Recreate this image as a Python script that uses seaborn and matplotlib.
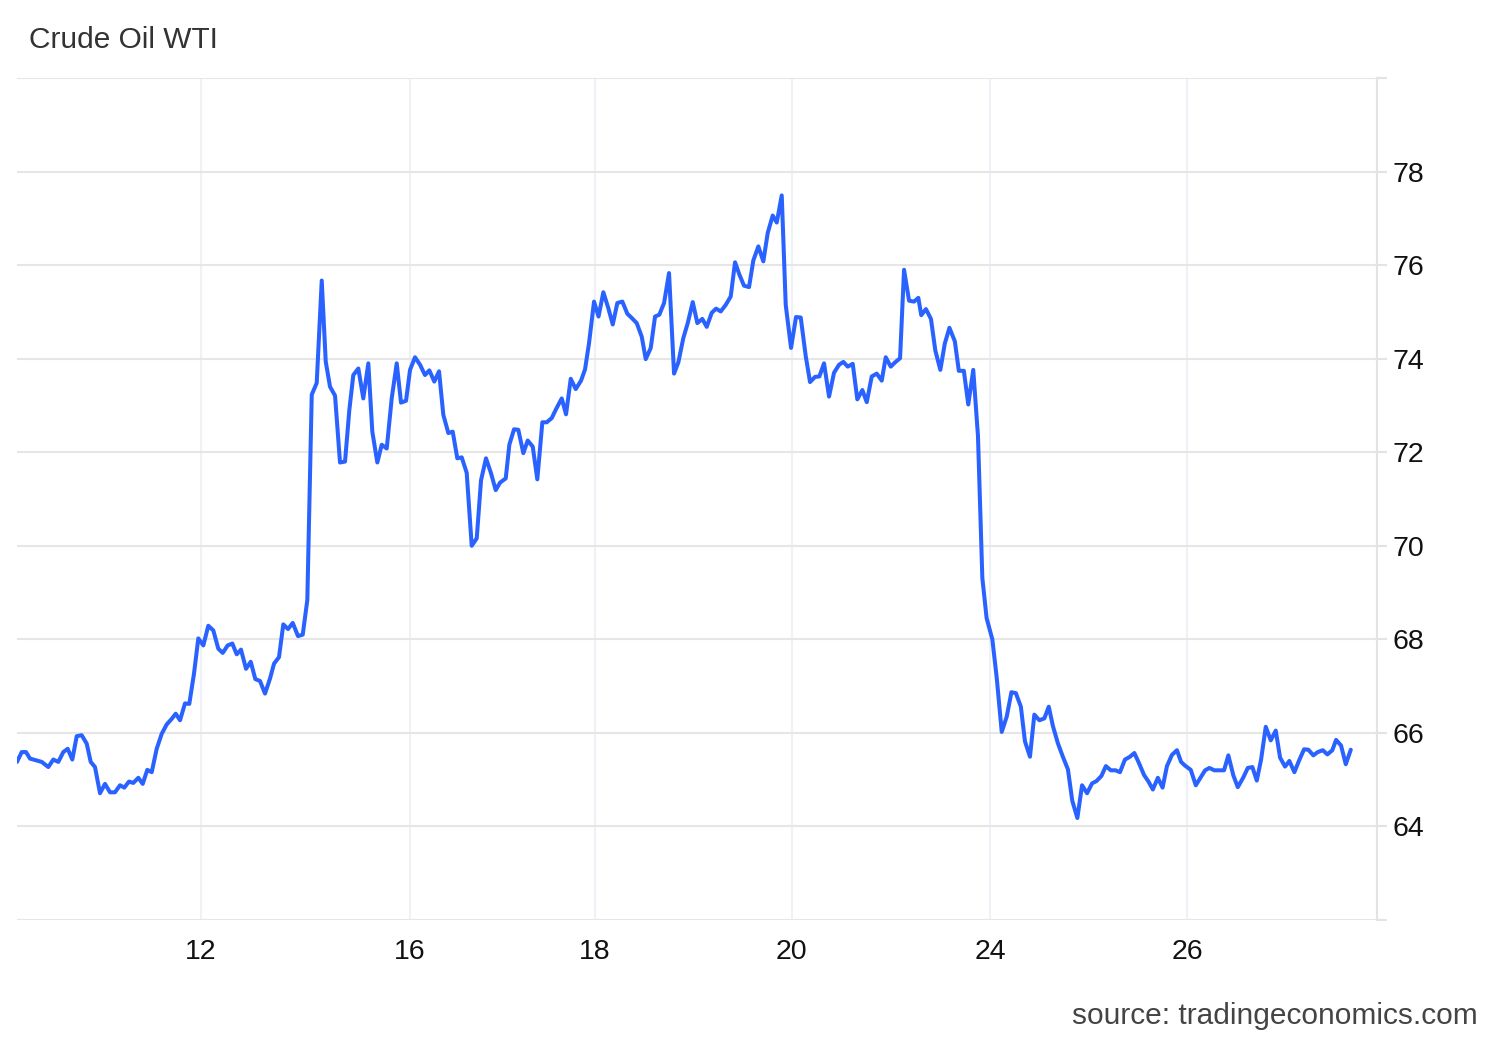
from matplotlib import pyplot as plt
import pandas as pd
import seaborn as sns

# hourly WTI quotes, x = hours since start of the window, y = USD/bbl
hours = [0.00, 1.10, 2.10, 3.03, 4.59, 5.76, 7.30, 8.46, 9.63, 10.79, 11.82, 12.89, 13.92, 15.08,
         16.25, 17.18, 18.18, 19.35, 20.51, 21.68, 22.84, 24.01, 25.01, 26.11, 27.11, 28.28, 29.30,
         30.37, 31.40, 32.56, 33.73, 34.89, 36.06, 36.99, 38.00, 39.16, 40.16, 41.26, 42.26, 43.43,
         44.59, 45.76, 46.92, 47.95, 49.11, 50.19, 51.21, 52.21, 53.38, 54.48, 55.55, 56.64, 57.81,
         58.97, 59.91, 61.07, 62.07, 63.17, 64.27, 65.50, 66.60, 67.67, 68.70, 69.86, 71.03, 71.96,
         72.96, 74.13, 75.29, 76.46, 77.46, 78.39, 79.56, 80.72, 81.89, 82.82, 83.99, 85.01, 86.18,
         87.34, 88.51, 89.51, 90.68, 91.61, 92.77, 93.94, 95.10, 96.11, 97.27, 98.37, 99.37, 100.54,
         101.56, 102.63, 103.66, 104.82, 105.99, 107.16, 108.16, 109.32, 110.49, 111.58, 112.59,
         113.92, 114.76, 115.85, 116.85, 118.02, 119.04, 120.21, 121.28, 122.45, 123.47, 124.64,
         125.64, 126.97, 127.97, 129.07, 130.23, 131.47, 132.40, 133.33, 134.50, 135.55, 136.67,
         137.83, 138.86, 139.93, 141.10, 142.26, 143.29, 144.45, 145.62, 146.55, 147.72, 148.72,
         149.72, 150.82, 151.98, 153.15, 154.15, 155.31, 156.34, 157.51, 158.58, 159.74, 160.77,
         161.93, 162.94, 164.03, 165.20, 166.36, 167.37, 168.37, 169.46, 170.63, 171.63, 172.80,
         173.96, 174.99, 176.15, 177.09, 178.25, 179.18, 180.42, 181.58, 182.68, 183.85, 184.85,
         186.01, 187.02, 188.11, 189.28, 190.44, 191.61, 192.61, 193.64, 194.80, 195.87, 197.04,
         198.07, 199.23, 200.40, 201.56, 202.49, 203.66, 204.66, 205.83, 206.76, 207.93, 209.09,
         210.09, 210.77, 211.86, 213.03, 214.06, 215.22, 216.25, 217.34, 218.60, 219.53, 220.70,
         221.73, 222.89, 223.99, 225.01, 226.01, 227.34, 228.37, 229.53, 230.70, 231.79, 232.82,
         233.99, 234.94, 236.11, 237.13, 238.30, 239.46, 240.49, 241.45, 242.61, 243.78, 244.96,
         245.97, 247.16, 248.25, 249.42, 250.58, 251.61, 252.77, 253.80, 254.97, 256.06, 257.09,
         258.25, 259.42, 260.44, 261.54, 262.70, 263.73, 264.75, 265.92, 267.02, 268.04, 269.21,
         270.37, 271.33, 272.26, 273.59, 274.76, 275.92, 276.93, 277.93, 279.09, 280.26, 281.35,
         282.35, 283.52, 284.55, 285.85, 286.88, 287.95, 288.98, 289.98, 291.07, 292.24, 293.40,
         294.41, 295.57, 296.57, 297.74, 298.84, 300.00, 301.00, 302.17, 303.19, 304.36, 305.43,
         306.59, 307.46, 308.62, 309.72, 310.89]

price = [65.38, 65.59, 65.59, 65.45, 65.41, 65.38, 65.27, 65.43, 65.38, 65.59, 65.66, 65.43, 65.93,
         65.95, 65.77, 65.38, 65.27, 64.71, 64.91, 64.73, 64.73, 64.88, 64.83, 64.96, 64.93, 65.04,
         64.91, 65.21, 65.16, 65.66, 65.98, 66.18, 66.30, 66.41, 66.27, 66.63, 66.62, 67.27, 68.02,
         67.87, 68.29, 68.19, 67.80, 67.71, 67.87, 67.91, 67.68, 67.78, 67.37, 67.52, 67.15, 67.11,
         66.84, 67.16, 67.48, 67.62, 68.32, 68.22, 68.35, 68.07, 68.10, 68.84, 73.23, 73.48, 75.67,
         73.94, 73.40, 73.21, 71.78, 71.80, 72.90, 73.65, 73.79, 73.15, 73.90, 72.44, 71.78, 72.16,
         72.08, 73.15, 73.90, 73.06, 73.10, 73.76, 74.03, 73.87, 73.65, 73.75, 73.51, 73.73, 72.80,
         72.41, 72.44, 71.87, 71.89, 71.56, 70.00, 70.16, 71.40, 71.87, 71.55, 71.19, 71.35, 71.44,
         72.16, 72.49, 72.48, 71.98, 72.25, 72.12, 71.42, 72.64, 72.64, 72.73, 72.92, 73.15, 72.81,
         73.57, 73.35, 73.53, 73.77, 74.33, 75.22, 74.90, 75.42, 75.08, 74.73, 75.19, 75.22, 74.96,
         74.87, 74.76, 74.47, 73.99, 74.23, 74.90, 74.94, 75.19, 75.83, 73.68, 73.92, 74.44, 74.76,
         75.21, 74.76, 74.85, 74.68, 74.98, 75.07, 75.01, 75.15, 75.33, 76.06, 75.80, 75.56, 75.53,
         76.10, 76.40, 76.08, 76.69, 77.06, 76.91, 77.49, 75.15, 74.23, 74.89, 74.88, 74.05, 73.50,
         73.61, 73.62, 73.90, 73.19, 73.70, 73.87, 73.93, 73.83, 73.89, 73.13, 73.33, 73.07, 73.62,
         73.68, 73.53, 74.03, 73.83, 73.92, 74.01, 75.90, 75.24, 75.22, 75.30, 74.93, 75.06, 74.85,
         74.17, 73.76, 74.32, 74.66, 74.37, 73.74, 73.74, 73.02, 73.76, 72.35, 69.31, 68.45, 68.00,
         67.17, 66.02, 66.35, 66.87, 66.85, 66.56, 65.82, 65.49, 66.39, 66.27, 66.31, 66.56, 66.15,
         65.78, 65.49, 65.22, 64.55, 64.18, 64.88, 64.71, 64.92, 64.97, 65.08, 65.29, 65.20, 65.20,
         65.16, 65.43, 65.49, 65.57, 65.35, 65.10, 64.96, 64.79, 65.04, 64.83, 65.29, 65.53, 65.63,
         65.38, 65.30, 65.21, 64.88, 65.05, 65.20, 65.25, 65.20, 65.20, 65.20, 65.52, 65.09, 64.84,
         65.05, 65.25, 65.27, 64.98, 65.43, 66.13, 65.84, 66.05, 65.47, 65.28, 65.40, 65.16, 65.41,
         65.65, 65.64, 65.52, 65.59, 65.63, 65.54, 65.63, 65.85, 65.73, 65.33, 65.64]

day_ticks = [42.9, 91.6, 134.7, 180.6, 226.8, 272.7]
day_labels = ['12', '16', '18', '20', '24', '26']
price_ticks = list(range(62, 81, 2))
price_labels = ['' if p in (62, 80) else str(p) for p in price_ticks]

df = pd.DataFrame({'hour': hours, 'price': price})

sns.set_style('white')
plt.rcParams['font.family'] = ['Liberation Sans', 'DejaVu Sans']

fig = plt.figure(figsize=(15, 10.4), dpi=100)
ax = fig.add_axes([17 / 1500, 1 - 920 / 1040, 1360 / 1500, 842 / 1040])

sns.lineplot(data=df, x='hour', y='price', ax=ax, color='#2962ff', linewidth=2.9)

ax.set_xlim(0, 317)
ax.set_ylim(62, 80)
ax.set_xlabel('')
ax.set_ylabel('')

# vertical grid at the day ticks
for t in day_ticks:
    ax.axvline(t, color='#eef1f5', linewidth=1.5, zorder=0)
ax.set_xticks(day_ticks)
ax.set_xticklabels(day_labels, fontsize=20.5, color='#111111')
ax.tick_params(axis='x', length=0, pad=14)

ax.yaxis.tick_right()
ax.set_yticks(price_ticks)
ax.set_yticklabels(price_labels, fontsize=20.5, color='#111111')
ax.tick_params(axis='y', length=7, width=1.5, color='#e3e3e3', pad=4)
ax.yaxis.grid(True, color='#e6e6e6', linewidth=1.5)
ax.xaxis.grid(False)
ax.set_axisbelow(True)

for side in ['top', 'left', 'bottom']:
    ax.spines[side].set_visible(False)
ax.spines['right'].set_color('#e3e3e3')
ax.spines['right'].set_linewidth(1.5)

fig.text(29 / 1500, 1 - 40 / 1040, 'Crude Oil WTI', ha='left', va='center',
         fontsize=21.5, color='#333333')
fig.text(1478 / 1500, 1 - 1016 / 1040, 'source: tradingeconomics.com', ha='right',
         va='center', fontsize=21.5, color='#444444')

fig.savefig('out.png', dpi=100, facecolor='white')
